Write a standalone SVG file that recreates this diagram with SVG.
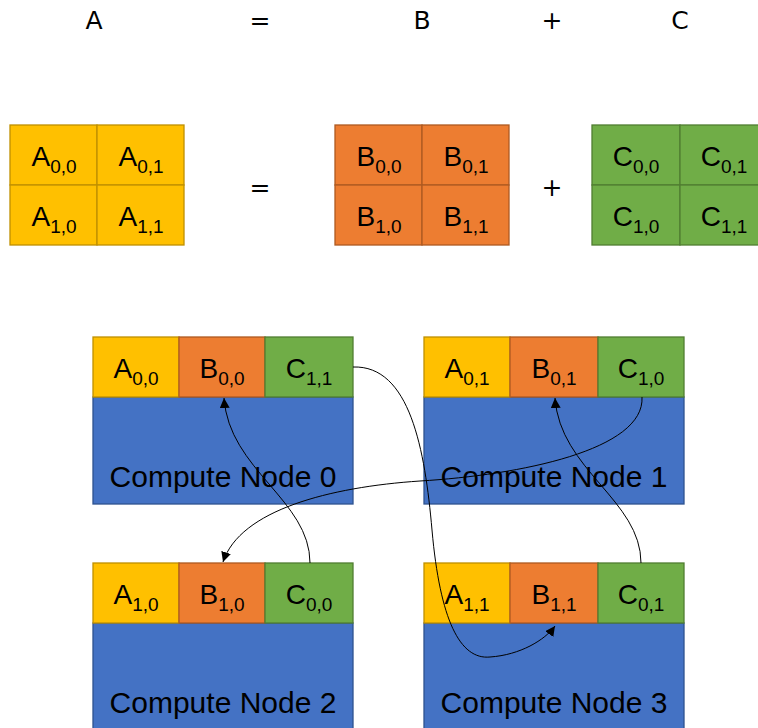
<svg xmlns="http://www.w3.org/2000/svg" width="758" height="728" viewBox="0 0 758 728">
<style>
.a{fill:#FFC000;stroke:#BF9000;stroke-width:1.3}
.b{fill:#ED7D31;stroke:#AE5A21;stroke-width:1.3}
.c{fill:#70AD47;stroke:#507E32;stroke-width:1.3}
.n{fill:#4472C4;stroke:#2F528F;stroke-width:1.3}
.t{font-family:"Liberation Sans",Arial,sans-serif;font-size:28px;fill:#000;text-anchor:middle}
.s{font-size:19px}
.h{font-family:"DejaVu Sans","Liberation Sans",sans-serif;font-size:25px;fill:#000;text-anchor:middle}
.cn{font-family:"Liberation Sans",Arial,sans-serif;font-size:30px;fill:#000;text-anchor:middle}
.con{fill:none;stroke:#000;stroke-width:1}
</style>
<defs>
<marker id="arr" viewBox="0 0 10 10" refX="10" refY="5" markerWidth="10" markerHeight="10" markerUnits="userSpaceOnUse" orient="auto">
<path d="M0,0 L10,5 L0,10 z" fill="#000"/>
</marker>
</defs>
<rect width="758" height="728" fill="#fff"/>

<g id="header">
<text class="h" x="94" y="29">A</text>
<text class="h" x="260" y="29">=</text>
<text class="h" x="422" y="29">B</text>
<text class="h" x="552" y="29">+</text>
<text class="h" x="680" y="29">C</text>
<text class="h" x="260" y="196">=</text>
<text class="h" x="552" y="196">+</text>
</g>

<g id="matrixA">
<rect class="a" x="10" y="125" width="87" height="60"/>
<rect class="a" x="97" y="125" width="87" height="60"/>
<rect class="a" x="10" y="185" width="87" height="60"/>
<rect class="a" x="97" y="185" width="87" height="60"/>
<text class="t" x="54" y="166">A<tspan class="s" dy="7">0,0</tspan></text>
<text class="t" x="141" y="166">A<tspan class="s" dy="7">0,1</tspan></text>
<text class="t" x="54" y="226">A<tspan class="s" dy="7">1,0</tspan></text>
<text class="t" x="141" y="226">A<tspan class="s" dy="7">1,1</tspan></text>
</g>

<g id="matrixB">
<rect class="b" x="335" y="125" width="87" height="60"/>
<rect class="b" x="422" y="125" width="87" height="60"/>
<rect class="b" x="335" y="185" width="87" height="60"/>
<rect class="b" x="422" y="185" width="87" height="60"/>
<text class="t" x="379" y="166">B<tspan class="s" dy="7">0,0</tspan></text>
<text class="t" x="466" y="166">B<tspan class="s" dy="7">0,1</tspan></text>
<text class="t" x="379" y="226">B<tspan class="s" dy="7">1,0</tspan></text>
<text class="t" x="466" y="226">B<tspan class="s" dy="7">1,1</tspan></text>
</g>

<g id="matrixC">
<rect class="c" x="592" y="125" width="88" height="60"/>
<rect class="c" x="680" y="125" width="88" height="60"/>
<rect class="c" x="592" y="185" width="88" height="60"/>
<rect class="c" x="680" y="185" width="88" height="60"/>
<text class="t" x="636" y="166">C<tspan class="s" dy="7">0,0</tspan></text>
<text class="t" x="724" y="166">C<tspan class="s" dy="7">0,1</tspan></text>
<text class="t" x="636" y="226">C<tspan class="s" dy="7">1,0</tspan></text>
<text class="t" x="724" y="226">C<tspan class="s" dy="7">1,1</tspan></text>
</g>

<g id="node0">
<rect class="n" x="93" y="397" width="260" height="107"/>
<rect class="a" x="93" y="337" width="86" height="60"/>
<rect class="b" x="179" y="337" width="86" height="60"/>
<rect class="c" x="265" y="337" width="88" height="60"/>
<text class="t" x="136" y="378">A<tspan class="s" dy="7">0,0</tspan></text>
<text class="t" x="222" y="378">B<tspan class="s" dy="7">0,0</tspan></text>
<text class="t" x="309" y="378">C<tspan class="s" dy="7">1,1</tspan></text>
<text class="cn" x="223" y="487">Compute Node 0</text>
</g>

<g id="node1">
<rect class="n" x="424" y="397" width="260" height="107"/>
<rect class="a" x="424" y="337" width="86" height="60"/>
<rect class="b" x="510" y="337" width="88" height="60"/>
<rect class="c" x="598" y="337" width="86" height="60"/>
<text class="t" x="467" y="378">A<tspan class="s" dy="7">0,1</tspan></text>
<text class="t" x="554" y="378">B<tspan class="s" dy="7">0,1</tspan></text>
<text class="t" x="641" y="378">C<tspan class="s" dy="7">1,0</tspan></text>
<text class="cn" x="554" y="487">Compute Node 1</text>
</g>

<g id="node2">
<rect class="n" x="93" y="623" width="260" height="115"/>
<rect class="a" x="93" y="563" width="86" height="60"/>
<rect class="b" x="179" y="563" width="86" height="60"/>
<rect class="c" x="265" y="563" width="88" height="60"/>
<text class="t" x="136" y="604">A<tspan class="s" dy="7">1,0</tspan></text>
<text class="t" x="222" y="604">B<tspan class="s" dy="7">1,0</tspan></text>
<text class="t" x="309" y="604">C<tspan class="s" dy="7">0,0</tspan></text>
<text class="cn" x="223" y="713">Compute Node 2</text>
</g>

<g id="node3">
<rect class="n" x="424" y="623" width="260" height="115"/>
<rect class="a" x="424" y="563" width="86" height="60"/>
<rect class="b" x="510" y="563" width="88" height="60"/>
<rect class="c" x="598" y="563" width="86" height="60"/>
<text class="t" x="467" y="604">A<tspan class="s" dy="7">1,1</tspan></text>
<text class="t" x="554" y="604">B<tspan class="s" dy="7">1,1</tspan></text>
<text class="t" x="641" y="604">C<tspan class="s" dy="7">0,1</tspan></text>
<text class="cn" x="554" y="713">Compute Node 3</text>
</g>

<g id="connectors">
<path class="con" marker-end="url(#arr)" d="M353,367 C410,365 425,450 432,530 C440,620 460,660 490,657 C520,655 545,640 555,626"/>
<path class="con" marker-end="url(#arr)" d="M642,397 C645,450 520,475 420,481 C330,487 240,510 223,562"/>
<path class="con" marker-end="url(#arr)" d="M310,563 C310,500 229,470 224,398"/>
<path class="con" marker-end="url(#arr)" d="M641,563 C641,500 560,470 555,398"/>
</g>
</svg>
